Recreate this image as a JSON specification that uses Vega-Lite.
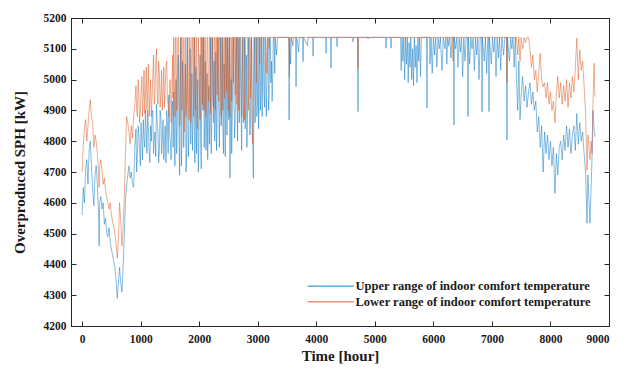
{
"$schema": "https://vega.github.io/schema/vega-lite/v6.json",
"width": 538, "height": 308,
"autosize": {"type": "none"},
"padding": {"left": 71, "top": 18, "right": 26, "bottom": 44},
"config": {
  "font": "Liberation Serif",
  "view": {"stroke": "#262626", "strokeWidth": 1},
  "axis": {"labelFont": "Liberation Serif", "labelFontWeight": "bold", "labelFontSize": 11.5, "labelColor": "#1a1a1a",
           "titleFont": "Liberation Serif", "titleFontWeight": "bold", "titleFontSize": 15, "titleColor": "#1a1a1a",
           "domainColor": "#262626", "tickColor": "#262626", "tickSize": -5, "grid": false, "domainWidth": 1, "tickWidth": 1}
},
"datasets": {
"upper": [
{"t":0,"v":4560},{"t":20,"v":4650},{"t":40,"v":4600},{"t":60,"v":4710},{"t":80,"v":4740},{"t":100,"v":4660},{"t":120,"v":4770},{"t":140,"v":4800},{"t":160,"v":4720},{"t":180,"v":4640},{"t":200,"v":4590},{"t":220,"v":4690},{"t":240,"v":4720},{"t":260,"v":4660},{"t":280,"v":4570},{"t":290,"v":4460},{"t":300,"v":4600},{"t":320,"v":4620},{"t":340,"v":4580},{"t":360,"v":4600},{"t":380,"v":4530},{"t":400,"v":4550},{"t":420,"v":4500},{"t":440,"v":4490},{"t":460,"v":4520},{"t":480,"v":4470},{"t":500,"v":4450},{"t":520,"v":4430},{"t":540,"v":4410},{"t":560,"v":4390},{"t":580,"v":4350},{"t":600,"v":4290},{"t":620,"v":4340},{"t":640,"v":4390},{"t":660,"v":4340},{"t":680,"v":4310},{"t":700,"v":4390},{"t":720,"v":4490},{"t":740,"v":4610},{"t":760,"v":4660},{"t":780,"v":4690},{"t":800,"v":4720},{"t":820,"v":4680},{"t":840,"v":4700},{"t":860,"v":4660},{"t":880,"v":4650},{"t":900,"v":4780},
{"t":920,"v":4840},{"t":945,"v":4760},{"t":970,"v":4820},{"t":995,"v":4720},{"t":1020,"v":4800},{"t":1045,"v":4870},{"t":1070,"v":4780},{"t":1095,"v":4830},{"t":1120,"v":4900},{"t":1145,"v":4770},{"t":1170,"v":4850},{"t":1195,"v":4890},{"t":1220,"v":4760},{"t":1245,"v":4830},{"t":1270,"v":4920},{"t":1295,"v":4840},{"t":1320,"v":4770},{"t":1345,"v":4880},{"t":1370,"v":4800},{"t":1395,"v":4740},{"t":1420,"v":4850},{"t":1445,"v":4900},{"t":1470,"v":4760},{"t":1495,"v":4830},{"t":1520,"v":4740},{"t":1545,"v":4930},
{"t":932,"v":4700},{"t":957,"v":4850},{"t":982,"v":4770},{"t":1007,"v":4860},{"t":1032,"v":4740},{"t":1057,"v":4810},{"t":1082,"v":4900},{"t":1107,"v":4760},{"t":1132,"v":4840},{"t":1157,"v":4730},{"t":1182,"v":4800},{"t":1207,"v":4900},{"t":1232,"v":4810},{"t":1257,"v":4750},{"t":1282,"v":4860},{"t":1307,"v":4730},{"t":1332,"v":4900},{"t":1357,"v":4760},{"t":1382,"v":4870},{"t":1407,"v":4800},{"t":1432,"v":4730},{"t":1457,"v":4860},{"t":1482,"v":4950},{"t":1507,"v":4790},{"t":1532,"v":4880},{"t":1555,"v":4780},
{"t":1565,"v":4960},{"t":1585,"v":4720},{"t":1605,"v":5000},{"t":1625,"v":4850},{"t":1645,"v":5080},{"t":1665,"v":4690},{"t":1685,"v":5137},{"t":1705,"v":4800},{"t":1725,"v":4980},{"t":1745,"v":4860},{"t":1765,"v":5050},{"t":1785,"v":4760},{"t":1805,"v":4920},{"t":1825,"v":4830},{"t":1845,"v":5100},{"t":1865,"v":4880},{"t":1885,"v":4770},{"t":1905,"v":4960},{"t":1925,"v":4730},{"t":1945,"v":5040},{"t":1965,"v":4870},{"t":1985,"v":4700},{"t":2005,"v":4930},{"t":2025,"v":4800},{"t":2045,"v":5137},{"t":2065,"v":4900},{"t":2085,"v":4780},{"t":2105,"v":5060},{"t":2125,"v":4850},{"t":2145,"v":4740},{"t":2165,"v":4980},{"t":2185,"v":4880},{"t":2205,"v":4760},{"t":2225,"v":5137},{"t":2245,"v":4910},{"t":2265,"v":4800},{"t":2285,"v":5090},{"t":2305,"v":4860},{"t":2325,"v":5000},{"t":2345,"v":4780},{"t":2365,"v":5137},{"t":2385,"v":4920},{"t":2405,"v":4830},{"t":2425,"v":5050},{"t":2445,"v":4750},{"t":2465,"v":4990},{"t":2485,"v":5137},{"t":2505,"v":4870},{"t":2525,"v":4680},{"t":2545,"v":5000},{"t":2565,"v":4890},{"t":2585,"v":5137},{"t":2605,"v":4810},{"t":2625,"v":5060},{"t":2645,"v":4930},{"t":2665,"v":5137},{"t":2685,"v":4860},{"t":2705,"v":5020},{"t":2725,"v":4770},{"t":2745,"v":5137},{"t":2765,"v":4940},{"t":2785,"v":4840},{"t":2805,"v":5080},{"t":2825,"v":4900},{"t":2845,"v":5137},{"t":2865,"v":4820},{"t":2885,"v":5030},{"t":2905,"v":4880},{"t":2925,"v":4680},{"t":2945,"v":5137},{"t":2965,"v":4970},{"t":2985,"v":4880},{"t":3005,"v":5137},{"t":3025,"v":4990},{"t":3045,"v":4900},{"t":3065,"v":5137},{"t":3085,"v":5060},{"t":3105,"v":4960},{"t":3125,"v":5137},{"t":3145,"v":4880},{"t":3165,"v":5050},{"t":3185,"v":4900},{"t":3205,"v":5137},{"t":3225,"v":4990},{"t":3245,"v":4930},{"t":3265,"v":5137},
{"t":1575,"v":4850},{"t":1595,"v":4900},{"t":1615,"v":4760},{"t":1635,"v":4980},{"t":1655,"v":4820},{"t":1675,"v":4950},{"t":1695,"v":4720},{"t":1715,"v":5060},{"t":1735,"v":4780},{"t":1755,"v":4920},{"t":1775,"v":4700},{"t":1795,"v":5137},{"t":1815,"v":4750},{"t":1835,"v":4960},{"t":1855,"v":4790},{"t":1875,"v":5020},{"t":1895,"v":4850},{"t":1915,"v":5137},{"t":1935,"v":4860},{"t":1955,"v":4760},{"t":1975,"v":5000},{"t":1995,"v":4800},{"t":2015,"v":5080},{"t":2035,"v":4710},{"t":2055,"v":4960},{"t":2075,"v":5137},{"t":2095,"v":4860},{"t":2115,"v":4770},{"t":2135,"v":5020},{"t":2155,"v":4880},{"t":2175,"v":4790},{"t":2195,"v":5137},{"t":2215,"v":4870},{"t":2235,"v":4950},{"t":2255,"v":5060},{"t":2275,"v":4880},{"t":2295,"v":4770},{"t":2315,"v":5137},{"t":2335,"v":4900},{"t":2355,"v":4960},{"t":2375,"v":4850},{"t":2395,"v":5137},{"t":2415,"v":4760},{"t":2435,"v":4920},{"t":2455,"v":5137},{"t":2475,"v":4820},{"t":2495,"v":4950},{"t":2515,"v":5137},{"t":2535,"v":4850},{"t":2555,"v":4760},{"t":2575,"v":5080},{"t":2595,"v":4920},{"t":2615,"v":4870},{"t":2635,"v":5137},{"t":2655,"v":4800},{"t":2675,"v":4980},{"t":2695,"v":5137},{"t":2715,"v":4900},{"t":2735,"v":5000},{"t":2755,"v":4860},{"t":2775,"v":5137},{"t":2795,"v":4910},{"t":2815,"v":4780},{"t":2835,"v":5050},{"t":2855,"v":4930},{"t":2875,"v":4850},{"t":2895,"v":5137},{"t":2915,"v":4800},{"t":2935,"v":4990},{"t":2955,"v":4860},{"t":2975,"v":5137},{"t":2995,"v":4920},{"t":3015,"v":4840},{"t":3035,"v":5137},{"t":3055,"v":4970},{"t":3075,"v":4880},{"t":3095,"v":5137},{"t":3115,"v":4910},{"t":3135,"v":5020},{"t":3155,"v":4990},{"t":3175,"v":5137},{"t":3195,"v":4950},{"t":3215,"v":5137},{"t":3235,"v":5060},{"t":3255,"v":4980},{"t":3275,"v":5137},
{"t":3280,"v":5137},{"t":3290,"v":5020},{"t":3300,"v":5137},{"t":3320,"v":5080},{"t":3340,"v":5137},{"t":3530,"v":5137},{"t":3535,"v":4869},{"t":3545,"v":5137},{"t":3560,"v":5050},{"t":3575,"v":5137},{"t":3600,"v":5110},{"t":3610,"v":5137},{"t":3645,"v":5137},{"t":3654,"v":4977},{"t":3665,"v":5137},{"t":3700,"v":5090},{"t":3710,"v":5137},{"t":3765,"v":5137},{"t":3774,"v":5058},{"t":3783,"v":5137},{"t":3850,"v":5110},{"t":3858,"v":5137},{"t":3938,"v":5137},{"t":3945,"v":5076},{"t":3952,"v":5137},{"t":4160,"v":5137},{"t":4167,"v":5086},{"t":4174,"v":5137},{"t":4245,"v":5137},{"t":4252,"v":5037},{"t":4259,"v":5137},{"t":4350,"v":5137},{"t":4355,"v":5107},{"t":4360,"v":5137},{"t":4622,"v":5137},{"t":4628,"v":5122},{"t":4634,"v":5137},{"t":4707,"v":5137},{"t":4713,"v":4896},{"t":4719,"v":5137},{"t":4880,"v":5137},{"t":4884,"v":5132},{"t":4888,"v":5137},{"t":5185,"v":5137},{"t":5191,"v":5102},{"t":5197,"v":5137},{"t":5270,"v":5137},{"t":5277,"v":5102},{"t":5284,"v":5137},
{"t":5440,"v":5137},{"t":5450,"v":5030},{"t":5465,"v":5137},{"t":5480,"v":5060},{"t":5495,"v":5137},{"t":5510,"v":5000},{"t":5525,"v":5137},{"t":5540,"v":5050},{"t":5555,"v":5137},{"t":5570,"v":4990},{"t":5585,"v":5120},{"t":5600,"v":5040},{"t":5615,"v":5137},{"t":5630,"v":5000},{"t":5645,"v":5100},{"t":5660,"v":4980},{"t":5675,"v":5137},{"t":5690,"v":5040},{"t":5705,"v":5110},{"t":5720,"v":4990},{"t":5735,"v":5137},{"t":5750,"v":5060},{"t":5765,"v":5137},{"t":5780,"v":5010},{"t":5795,"v":5137},{"t":5885,"v":5137},{"t":5891,"v":4908},{"t":5897,"v":5137},{"t":5935,"v":5137},{"t":5942,"v":5050},{"t":5960,"v":5137},{"t":5980,"v":5020},{"t":6000,"v":5137},{"t":6020,"v":5080},{"t":6040,"v":5137},{"t":6060,"v":5040},{"t":6080,"v":5137},{"t":6100,"v":5100},{"t":6120,"v":5137},{"t":6147,"v":5030},{"t":6170,"v":5137},{"t":6198,"v":5100},{"t":6215,"v":5137},{"t":6230,"v":5050},{"t":6245,"v":5137},{"t":6260,"v":5110},{"t":6280,"v":5137},{"t":6300,"v":5070},{"t":6320,"v":5137},{"t":6346,"v":5137},{"t":6352,"v":4853},{"t":6358,"v":5137},{"t":6380,"v":5100},{"t":6400,"v":5137},{"t":6420,"v":5040},{"t":6440,"v":5137},{"t":6460,"v":5090},{"t":6480,"v":5137},{"t":6500,"v":5010},{"t":6520,"v":5137},{"t":6540,"v":5060},{"t":6560,"v":5137},{"t":6585,"v":5137},{"t":6591,"v":4880},{"t":6597,"v":5137},{"t":6620,"v":5050},{"t":6640,"v":5137},{"t":6660,"v":5100},{"t":6680,"v":5137},{"t":6700,"v":5030},{"t":6720,"v":5137},{"t":6740,"v":5080},{"t":6760,"v":5137},{"t":6780,"v":5000},{"t":6800,"v":5137},{"t":6825,"v":5137},{"t":6831,"v":4896},{"t":6837,"v":5137},{"t":6870,"v":5060},{"t":6890,"v":5137},{"t":6910,"v":5020},{"t":6930,"v":5137},{"t":6944,"v":5137},{"t":6950,"v":4896},{"t":6956,"v":5137},{"t":6990,"v":5050},{"t":7010,"v":5137},{"t":7030,"v":5090},{"t":7050,"v":5137},{"t":7070,"v":5010},{"t":7090,"v":5137},{"t":7110,"v":5070},{"t":7130,"v":5137},{"t":7150,"v":5030},{"t":7170,"v":5137},{"t":7200,"v":5080},{"t":7220,"v":5137},{"t":7250,"v":5137},{"t":7257,"v":4804},{"t":7264,"v":5137},{"t":7300,"v":5060},{"t":7320,"v":5137},{"t":7340,"v":5100},{"t":7360,"v":5137},{"t":7380,"v":5040},{"t":7400,"v":5137},
{"t":7420,"v":5000},{"t":7440,"v":4900},{"t":7460,"v":5060},{"t":7480,"v":4870},{"t":7500,"v":4950},{"t":7525,"v":5010},{"t":7550,"v":4930},{"t":7575,"v":4980},{"t":7600,"v":4910},{"t":7625,"v":4960},{"t":7650,"v":4990},{"t":7675,"v":4920},{"t":7700,"v":4960},{"t":7725,"v":4900},{"t":7750,"v":4930},{"t":7775,"v":4830},{"t":7800,"v":4880},{"t":7825,"v":4780},{"t":7850,"v":4850},{"t":7875,"v":4700},{"t":7900,"v":4830},{"t":7925,"v":4760},{"t":7950,"v":4820},{"t":7975,"v":4740},{"t":8000,"v":4800},{"t":8025,"v":4720},{"t":8050,"v":4780},{"t":8077,"v":4630},{"t":8100,"v":4760},{"t":8125,"v":4690},{"t":8150,"v":4780},{"t":8175,"v":4800},{"t":8200,"v":4740},{"t":8225,"v":4820},{"t":8250,"v":4770},{"t":8275,"v":4850},{"t":8300,"v":4780},{"t":8325,"v":4840},{"t":8350,"v":4760},{"t":8375,"v":4820},{"t":8400,"v":4850},{"t":8425,"v":4770},{"t":8450,"v":4890},{"t":8475,"v":4790},{"t":8500,"v":4860},{"t":8525,"v":4800},{"t":8550,"v":4830},{"t":8575,"v":4760},{"t":8600,"v":4700},{"t":8624,"v":4534},{"t":8640,"v":4690},{"t":8660,"v":4600},{"t":8675,"v":4534},{"t":8695,"v":4650},{"t":8710,"v":4750},{"t":8726,"v":4900},{"t":8745,"v":4840},{"t":8760,"v":4814}
],
"lower": [
{"t":0,"v":4700},{"t":20,"v":4790},{"t":40,"v":4840},{"t":60,"v":4870},{"t":80,"v":4800},{"t":100,"v":4850},{"t":120,"v":4900},{"t":140,"v":4935},{"t":160,"v":4880},{"t":180,"v":4860},{"t":200,"v":4780},{"t":220,"v":4820},{"t":240,"v":4800},{"t":260,"v":4760},{"t":280,"v":4700},{"t":290,"v":4650},{"t":300,"v":4720},{"t":320,"v":4740},{"t":340,"v":4700},{"t":360,"v":4660},{"t":380,"v":4680},{"t":400,"v":4640},{"t":420,"v":4620},{"t":440,"v":4600},{"t":460,"v":4580},{"t":480,"v":4600},{"t":500,"v":4560},{"t":520,"v":4540},{"t":540,"v":4520},{"t":560,"v":4500},{"t":580,"v":4470},{"t":600,"v":4420},{"t":620,"v":4480},{"t":640,"v":4600},{"t":660,"v":4540},{"t":680,"v":4460},{"t":700,"v":4520},{"t":720,"v":4620},{"t":740,"v":4760},{"t":760,"v":4880},{"t":780,"v":4860},{"t":800,"v":4830},{"t":820,"v":4790},{"t":840,"v":4850},{"t":860,"v":4810},{"t":880,"v":4880},{"t":900,"v":4920},
{"t":920,"v":4980},{"t":945,"v":4880},{"t":970,"v":4950},{"t":995,"v":4900},{"t":1020,"v":5010},{"t":1045,"v":4940},{"t":1070,"v":4890},{"t":1095,"v":5040},{"t":1120,"v":4960},{"t":1145,"v":4880},{"t":1170,"v":5000},{"t":1195,"v":4940},{"t":1220,"v":5080},{"t":1245,"v":4960},{"t":1270,"v":5100},{"t":1295,"v":4920},{"t":1320,"v":5020},{"t":1345,"v":4950},{"t":1370,"v":4900},{"t":1395,"v":5040},{"t":1420,"v":4980},{"t":1445,"v":5060},{"t":1470,"v":4910},{"t":1495,"v":4990},{"t":1520,"v":4860},{"t":1545,"v":5080},
{"t":932,"v":4900},{"t":957,"v":5000},{"t":982,"v":4860},{"t":1007,"v":4960},{"t":1032,"v":4880},{"t":1057,"v":5030},{"t":1082,"v":4960},{"t":1107,"v":4900},{"t":1132,"v":5050},{"t":1157,"v":4940},{"t":1182,"v":4880},{"t":1207,"v":5010},{"t":1232,"v":4920},{"t":1257,"v":5050},{"t":1282,"v":4960},{"t":1307,"v":5060},{"t":1332,"v":4910},{"t":1357,"v":5030},{"t":1382,"v":4960},{"t":1407,"v":4910},{"t":1432,"v":5040},{"t":1457,"v":4940},{"t":1482,"v":4880},{"t":1507,"v":5000},{"t":1532,"v":4950},{"t":1555,"v":4940},
{"t":1565,"v":5137},{"t":1585,"v":4880},{"t":1605,"v":5137},{"t":1625,"v":4960},{"t":1645,"v":5137},{"t":1665,"v":4850},{"t":1685,"v":5137},{"t":1705,"v":4900},{"t":1725,"v":5137},{"t":1745,"v":4830},{"t":1765,"v":5137},{"t":1785,"v":4950},{"t":1805,"v":5137},{"t":1825,"v":4870},{"t":1845,"v":5137},{"t":1865,"v":5000},{"t":1885,"v":5137},{"t":1905,"v":4880},{"t":1925,"v":5060},{"t":1945,"v":5137},{"t":1965,"v":4860},{"t":1985,"v":5137},{"t":2005,"v":4950},{"t":2025,"v":5137},{"t":2045,"v":5080},{"t":2065,"v":5137},{"t":2085,"v":4900},{"t":2105,"v":5137},{"t":2125,"v":4980},{"t":2145,"v":5137},{"t":2165,"v":4930},{"t":2185,"v":5137},{"t":2205,"v":5020},{"t":2225,"v":5137},{"t":2245,"v":4860},{"t":2265,"v":5137},{"t":2285,"v":5137},{"t":2305,"v":4950},{"t":2325,"v":5137},{"t":2345,"v":5137},{"t":2365,"v":5010},{"t":2385,"v":5137},{"t":2405,"v":4900},{"t":2425,"v":5137},{"t":2445,"v":5137},{"t":2465,"v":4960},{"t":2485,"v":5137},{"t":2505,"v":5060},{"t":2525,"v":4880},{"t":2545,"v":5137},{"t":2565,"v":5137},{"t":2585,"v":4990},{"t":2605,"v":5137},{"t":2625,"v":5137},{"t":2645,"v":4920},{"t":2665,"v":5137},{"t":2685,"v":5030},{"t":2705,"v":5137},{"t":2725,"v":4880},{"t":2745,"v":5137},{"t":2765,"v":5137},{"t":2785,"v":4960},{"t":2805,"v":5137},{"t":2825,"v":5137},{"t":2845,"v":4900},{"t":2865,"v":5137},{"t":2885,"v":5137},{"t":2905,"v":4810},{"t":2925,"v":4920},{"t":2945,"v":5137},{"t":2965,"v":5137},{"t":2985,"v":5137},{"t":3005,"v":5137},{"t":3025,"v":5137},{"t":3045,"v":5137},{"t":3065,"v":5137},{"t":3085,"v":5137},{"t":3105,"v":5137},{"t":3125,"v":5137},{"t":3145,"v":5080},{"t":3165,"v":5137},{"t":3185,"v":5137},{"t":3205,"v":5137},{"t":3225,"v":5137},{"t":3245,"v":5137},{"t":3265,"v":5137},
{"t":1575,"v":4990},{"t":1595,"v":5137},{"t":1615,"v":4900},{"t":1635,"v":5137},{"t":1655,"v":5040},{"t":1675,"v":4870},{"t":1695,"v":5137},{"t":1715,"v":5000},{"t":1735,"v":4900},{"t":1755,"v":5137},{"t":1775,"v":4880},{"t":1795,"v":5060},{"t":1815,"v":4930},{"t":1835,"v":5137},{"t":1855,"v":4860},{"t":1875,"v":5137},{"t":1895,"v":4960},{"t":1915,"v":5137},{"t":1935,"v":4900},{"t":1955,"v":5137},{"t":1975,"v":4840},{"t":1995,"v":5060},{"t":2015,"v":4870},{"t":2035,"v":5137},{"t":2055,"v":4920},{"t":2075,"v":5020},{"t":2095,"v":5137},{"t":2115,"v":4880},{"t":2135,"v":5137},{"t":2155,"v":4950},{"t":2175,"v":5137},{"t":2195,"v":4890},{"t":2215,"v":5137},{"t":2235,"v":4970},{"t":2255,"v":5137},{"t":2275,"v":4900},{"t":2295,"v":5137},{"t":2315,"v":5020},{"t":2335,"v":4930},{"t":2355,"v":5137},{"t":2375,"v":4880},{"t":2395,"v":5137},{"t":2415,"v":5060},{"t":2435,"v":4940},{"t":2455,"v":5137},{"t":2475,"v":5137},{"t":2495,"v":4900},{"t":2515,"v":5137},{"t":2535,"v":5010},{"t":2555,"v":4930},{"t":2575,"v":5137},{"t":2595,"v":5137},{"t":2615,"v":4950},{"t":2635,"v":5137},{"t":2655,"v":5137},{"t":2675,"v":4900},{"t":2695,"v":5137},{"t":2715,"v":5137},{"t":2735,"v":5000},{"t":2755,"v":5137},{"t":2775,"v":4870},{"t":2795,"v":5137},{"t":2815,"v":5137},{"t":2835,"v":4990},{"t":2855,"v":5137},{"t":2875,"v":4940},{"t":2895,"v":5137},{"t":2915,"v":4790},{"t":2935,"v":5137},{"t":2955,"v":5137},{"t":2975,"v":4990},{"t":2995,"v":5137},{"t":3015,"v":5137},{"t":3035,"v":5050},{"t":3055,"v":5137},{"t":3075,"v":5137},{"t":3095,"v":5137},{"t":3115,"v":5137},{"t":3135,"v":5137},{"t":3155,"v":5020},{"t":3175,"v":5137},{"t":3195,"v":5100},{"t":3215,"v":5137},{"t":3235,"v":5137},{"t":3255,"v":5137},
{"t":3530,"v":5137},{"t":3540,"v":5010},{"t":3550,"v":5137},{"t":4707,"v":5137},{"t":4713,"v":5037},{"t":4719,"v":5137},{"t":6330,"v":5137},{"t":6335,"v":5060},{"t":6340,"v":5137},{"t":7250,"v":5137},{"t":7257,"v":4989},{"t":7264,"v":5137},{"t":7400,"v":5137},
{"t":7420,"v":5137},{"t":7440,"v":5080},{"t":7460,"v":5137},{"t":7480,"v":5060},{"t":7500,"v":5137},{"t":7525,"v":5100},{"t":7550,"v":5137},{"t":7575,"v":5120},{"t":7600,"v":5137},{"t":7625,"v":5137},{"t":7650,"v":5100},{"t":7675,"v":5040},{"t":7700,"v":5080},{"t":7725,"v":5000},{"t":7750,"v":5030},{"t":7775,"v":4960},{"t":7800,"v":5020},{"t":7825,"v":5086},{"t":7850,"v":5000},{"t":7875,"v":4976},{"t":7900,"v":4990},{"t":7925,"v":4940},{"t":7950,"v":4990},{"t":7975,"v":4920},{"t":8000,"v":4960},{"t":8025,"v":4900},{"t":8050,"v":4930},{"t":8077,"v":4860},{"t":8100,"v":4950},{"t":8125,"v":5010},{"t":8150,"v":4940},{"t":8175,"v":4990},{"t":8200,"v":4920},{"t":8225,"v":4980},{"t":8250,"v":4930},{"t":8275,"v":5000},{"t":8300,"v":4910},{"t":8325,"v":4990},{"t":8350,"v":4940},{"t":8375,"v":5010},{"t":8400,"v":4960},{"t":8425,"v":5040},{"t":8450,"v":5135},{"t":8475,"v":5000},{"t":8500,"v":5097},{"t":8525,"v":5030},{"t":8550,"v":5060},{"t":8575,"v":4980},{"t":8600,"v":4890},{"t":8624,"v":4706},{"t":8640,"v":4820},{"t":8660,"v":4780},{"t":8675,"v":4740},{"t":8695,"v":4800},{"t":8710,"v":4760},{"t":8726,"v":4920},{"t":8745,"v":5053},{"t":8760,"v":4944}
]
},
"layer": [
{
 "data": {"name": "upper"},
 "mark": {"type": "line", "strokeWidth": 0.8, "opacity": 0.6},
 "encoding": {
  "x": {"field": "t", "type": "quantitative", "scale": {"domain": [-190, 9000], "nice": false, "zero": false},
        "axis": {"values": [0,1000,2000,3000,4000,5000,6000,7000,8000,9000], "format": "d", "title": "Time [hour]", "labelPadding": 12, "titlePadding": 4}},
  "y": {"field": "v", "type": "quantitative", "scale": {"domain": [4200, 5200], "nice": false, "zero": false},
        "axis": {"values": [4200,4300,4400,4500,4600,4700,4800,4900,5000,5100,5200], "format": "d", "title": "Overproduced SPH [kW]", "labelPadding": 10, "titlePadding": 16}},
  "color": {"datum": "Upper range of indoor comfort temperature", "type": "nominal",
    "scale": {"domain": ["Upper range of indoor comfort temperature", "Lower range of indoor comfort temperature"], "range": ["#0072BD", "#D95319"]},
    "legend": {"title": null, "orient": "none", "legendX": 272, "legendY": 262, "symbolType": "M-9,0L1,0", "symbolSize": 85, "symbolStrokeWidth": 1.5,
      "labelFont": "Liberation Serif", "labelFontWeight": "bold", "labelFontSize": 12.5, "labelColor": "#1a1a1a", "labelLimit": 400, "labelOffset": 0, "rowPadding": 2.5,
      "encode": {"symbols": {"update": {"stroke": {"signal": "datum.value === 'Upper range of indoor comfort temperature' ? '#4DBEEE' : '#F08A8A'"}, "opacity": {"value": 1}, "strokeOpacity": {"value": 1}}}}}}
 }
},
{
 "data": {"name": "lower"},
 "mark": {"type": "line", "strokeWidth": 0.8, "opacity": 0.6},
 "encoding": {
  "x": {"field": "t", "type": "quantitative", "axis": null},
  "y": {"field": "v", "type": "quantitative", "axis": null},
  "color": {"datum": "Lower range of indoor comfort temperature", "type": "nominal"}
 }
},
{
 "data": {"values": [{"t": 0, "v": 4200}]},
 "mark": {"type": "point", "opacity": 0},
 "encoding": {
  "x": {"field": "t", "type": "quantitative", "axis": {"orient": "top", "labels": false, "title": null, "values": [0,1000,2000,3000,4000,5000,6000,7000,8000,9000]}},
  "y": {"field": "v", "type": "quantitative", "axis": {"orient": "right", "labels": false, "title": null, "values": [4200,4300,4400,4500,4600,4700,4800,4900,5000,5100,5200]}}
 }
}
],
"resolve": {"axis": {"x": "independent", "y": "independent"}}
}
